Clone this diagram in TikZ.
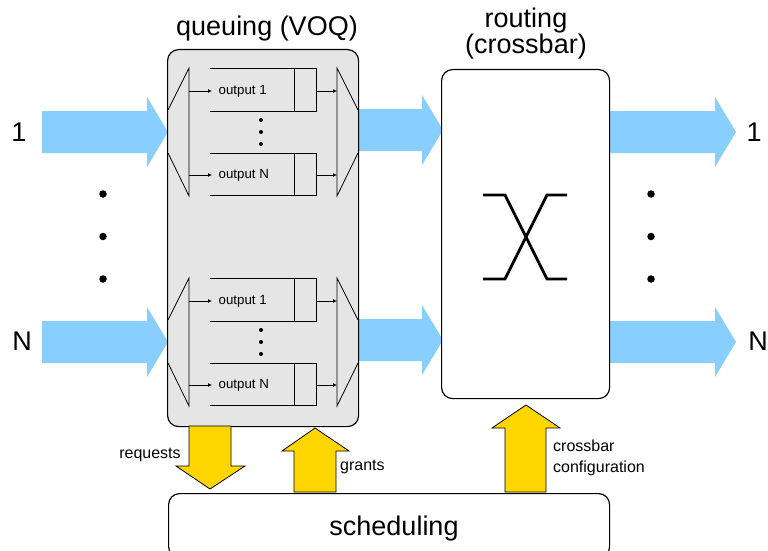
\documentclass[tikz,border=0pt]{standalone}
\usepackage{fontspec}
\setmainfont{Liberation Sans}
\usetikzlibrary{arrows.meta}
\definecolor{skyarrow}{RGB}{136,206,255}
\definecolor{goldarrow}{RGB}{255,214,0}
\newcommand\hblockarrow[3]{% start x, tip x, centre y
  \fill[skyarrow] (#1,#3-21) -- (#2-21,#3-21) -- (#2-21,#3-35) -- (#2,#3)
    -- (#2-21,#3+35) -- (#2-21,#3+21) -- (#1,#3+21) -- cycle;}
\begin{document}
\begin{tikzpicture}[x=1pt,y=-1pt,
  blockbox/.style={draw, line width=1.2pt, rounded corners=11pt, inner sep=0pt, anchor=north west},
  qline/.style={line width=0.8pt},
  qarrow/.style={qline, -{Latex[length=4pt,width=4pt]}},
  gold/.style={fill=goldarrow, draw, line width=0.8pt, line join=miter},
  bigtext/.style={font=\fontsize{27}{26}\selectfont, inner sep=0pt},
  midtext/.style={font=\fontsize{16}{21.5}\selectfont, inner sep=0pt},
  smalltext/.style={font=\fontsize{13.3}{16}\selectfont, inner sep=0pt},
  bigdot/.style={circle, fill, inner sep=0pt, minimum size=7.5pt},
  smalldot/.style={circle, fill, inner sep=0pt, minimum size=4pt},
]
\useasboundingbox (0,0) rectangle (768,551);

% blue data arrows
\hblockarrow{42}{168}{132}
\hblockarrow{42}{168}{342}
\hblockarrow{358}{443}{130}
\hblockarrow{358}{443}{340}
\hblockarrow{609}{736}{132}
\hblockarrow{609}{736}{342}

% main boxes
\node[blockbox, fill=gray!20, minimum width=191pt, minimum height=377pt] (queue) at (167,49) {};
\node[blockbox, fill=white, minimum width=168pt, minimum height=329pt] (crossbar) at (441,69) {};
\node[blockbox, fill=white, minimum width=441pt, minimum height=64pt] (sched) at (168,493) {};

% titles
\node[bigtext, anchor=base] (qtitle) at (267,36) {queuing (VOQ)};
\node[bigtext, anchor=base] (rtitle1) at (526,28) {routing};
\node[bigtext, anchor=base] (rtitle2) at (526,53) {(crossbar)};
\node[bigtext, anchor=base] (schedtext) at (394,535) {scheduling};

% port labels
\node[bigtext] (in1) at (19,132) {1};
\node[bigtext] (inN) at (22,341) {N};
\node[bigtext] (out1) at (754,132) {1};
\node[bigtext] (outN) at (758,341) {N};

% big ellipsis dots
\foreach \yy [count=\i] in {194,236.5,279} {
  \node[bigdot] (ldot\i) at (103,\yy) {};
  \node[bigdot] (rdot\i) at (651,\yy) {};
}

% VOQ groups
\foreach \dy/\g in {0/a,210/b} {
  \begin{scope}[shift={(0,\dy)}]
    % demultiplexer
    \draw[qline] (168,110) -- (189,68) -- (189,196) -- (168,153);
    % multiplexer
    \draw[qline] (358,110) -- (337,68) -- (337,196) -- (358,153);
    % queues
    \draw[qline] (210,68) -- (316,68) -- (316,111) -- (210,111);
    \draw[qline] (294,68) -- (294,111);
    \draw[qline] (210,153) -- (316,153) -- (316,195) -- (210,195);
    \draw[qline] (294,153) -- (294,195);
    \coordinate (\g d1) at (189,91);
    \coordinate (\g q1) at (212,91);
    \coordinate (\g e1) at (316,91);
    \coordinate (\g m1) at (337,91);
    \coordinate (\g d2) at (189,175);
    \coordinate (\g q2) at (212,175);
    \coordinate (\g e2) at (316,175);
    \coordinate (\g m2) at (337,175);
    \draw[qarrow] (\g d1) -- (\g q1);
    \draw[qarrow] (\g e1) -- (\g m1);
    \draw[qarrow] (\g d2) -- (\g q2);
    \draw[qarrow] (\g e2) -- (\g m2);
    \node[smalltext, anchor=west] (\g lab1) at (218.5,91) {output 1};
    \node[smalltext, anchor=west] (\g lab2) at (218.5,175) {output N};
    \node[smalldot] (\g s1) at (261,120) {};
    \node[smalldot] (\g s2) at (261,132) {};
    \node[smalldot] (\g s3) at (261,144) {};
  \end{scope}
}

% crossbar symbol
\draw[line width=2.8pt] (483,195) -- (505,195) -- (547,279) -- (567,279);
\draw[line width=2.8pt] (567,195) -- (547,195) -- (505,279) -- (483,279);

% control arrows (gold)
\draw[gold] (189,426) -- (231,426) -- (231,466) -- (245,466) -- (210,489)
  -- (176,466) -- (189,466) -- cycle;
\draw[gold] (294,492) -- (336,492) -- (336,451) -- (349,451) -- (315,428)
  -- (282,451) -- (294,451) -- cycle;
\draw[gold] (505,492) -- (546,492) -- (546,428) -- (560,428) -- (526,405)
  -- (492,428) -- (505,428) -- cycle;

\node[midtext] (req) at (150,455) {requests};
\node[midtext, anchor=west] (grants) at (340,467) {grants};
\node[midtext, anchor=west, align=left] (cfg) at (553,458) {crossbar\\configuration};
\end{tikzpicture}
\end{document}
